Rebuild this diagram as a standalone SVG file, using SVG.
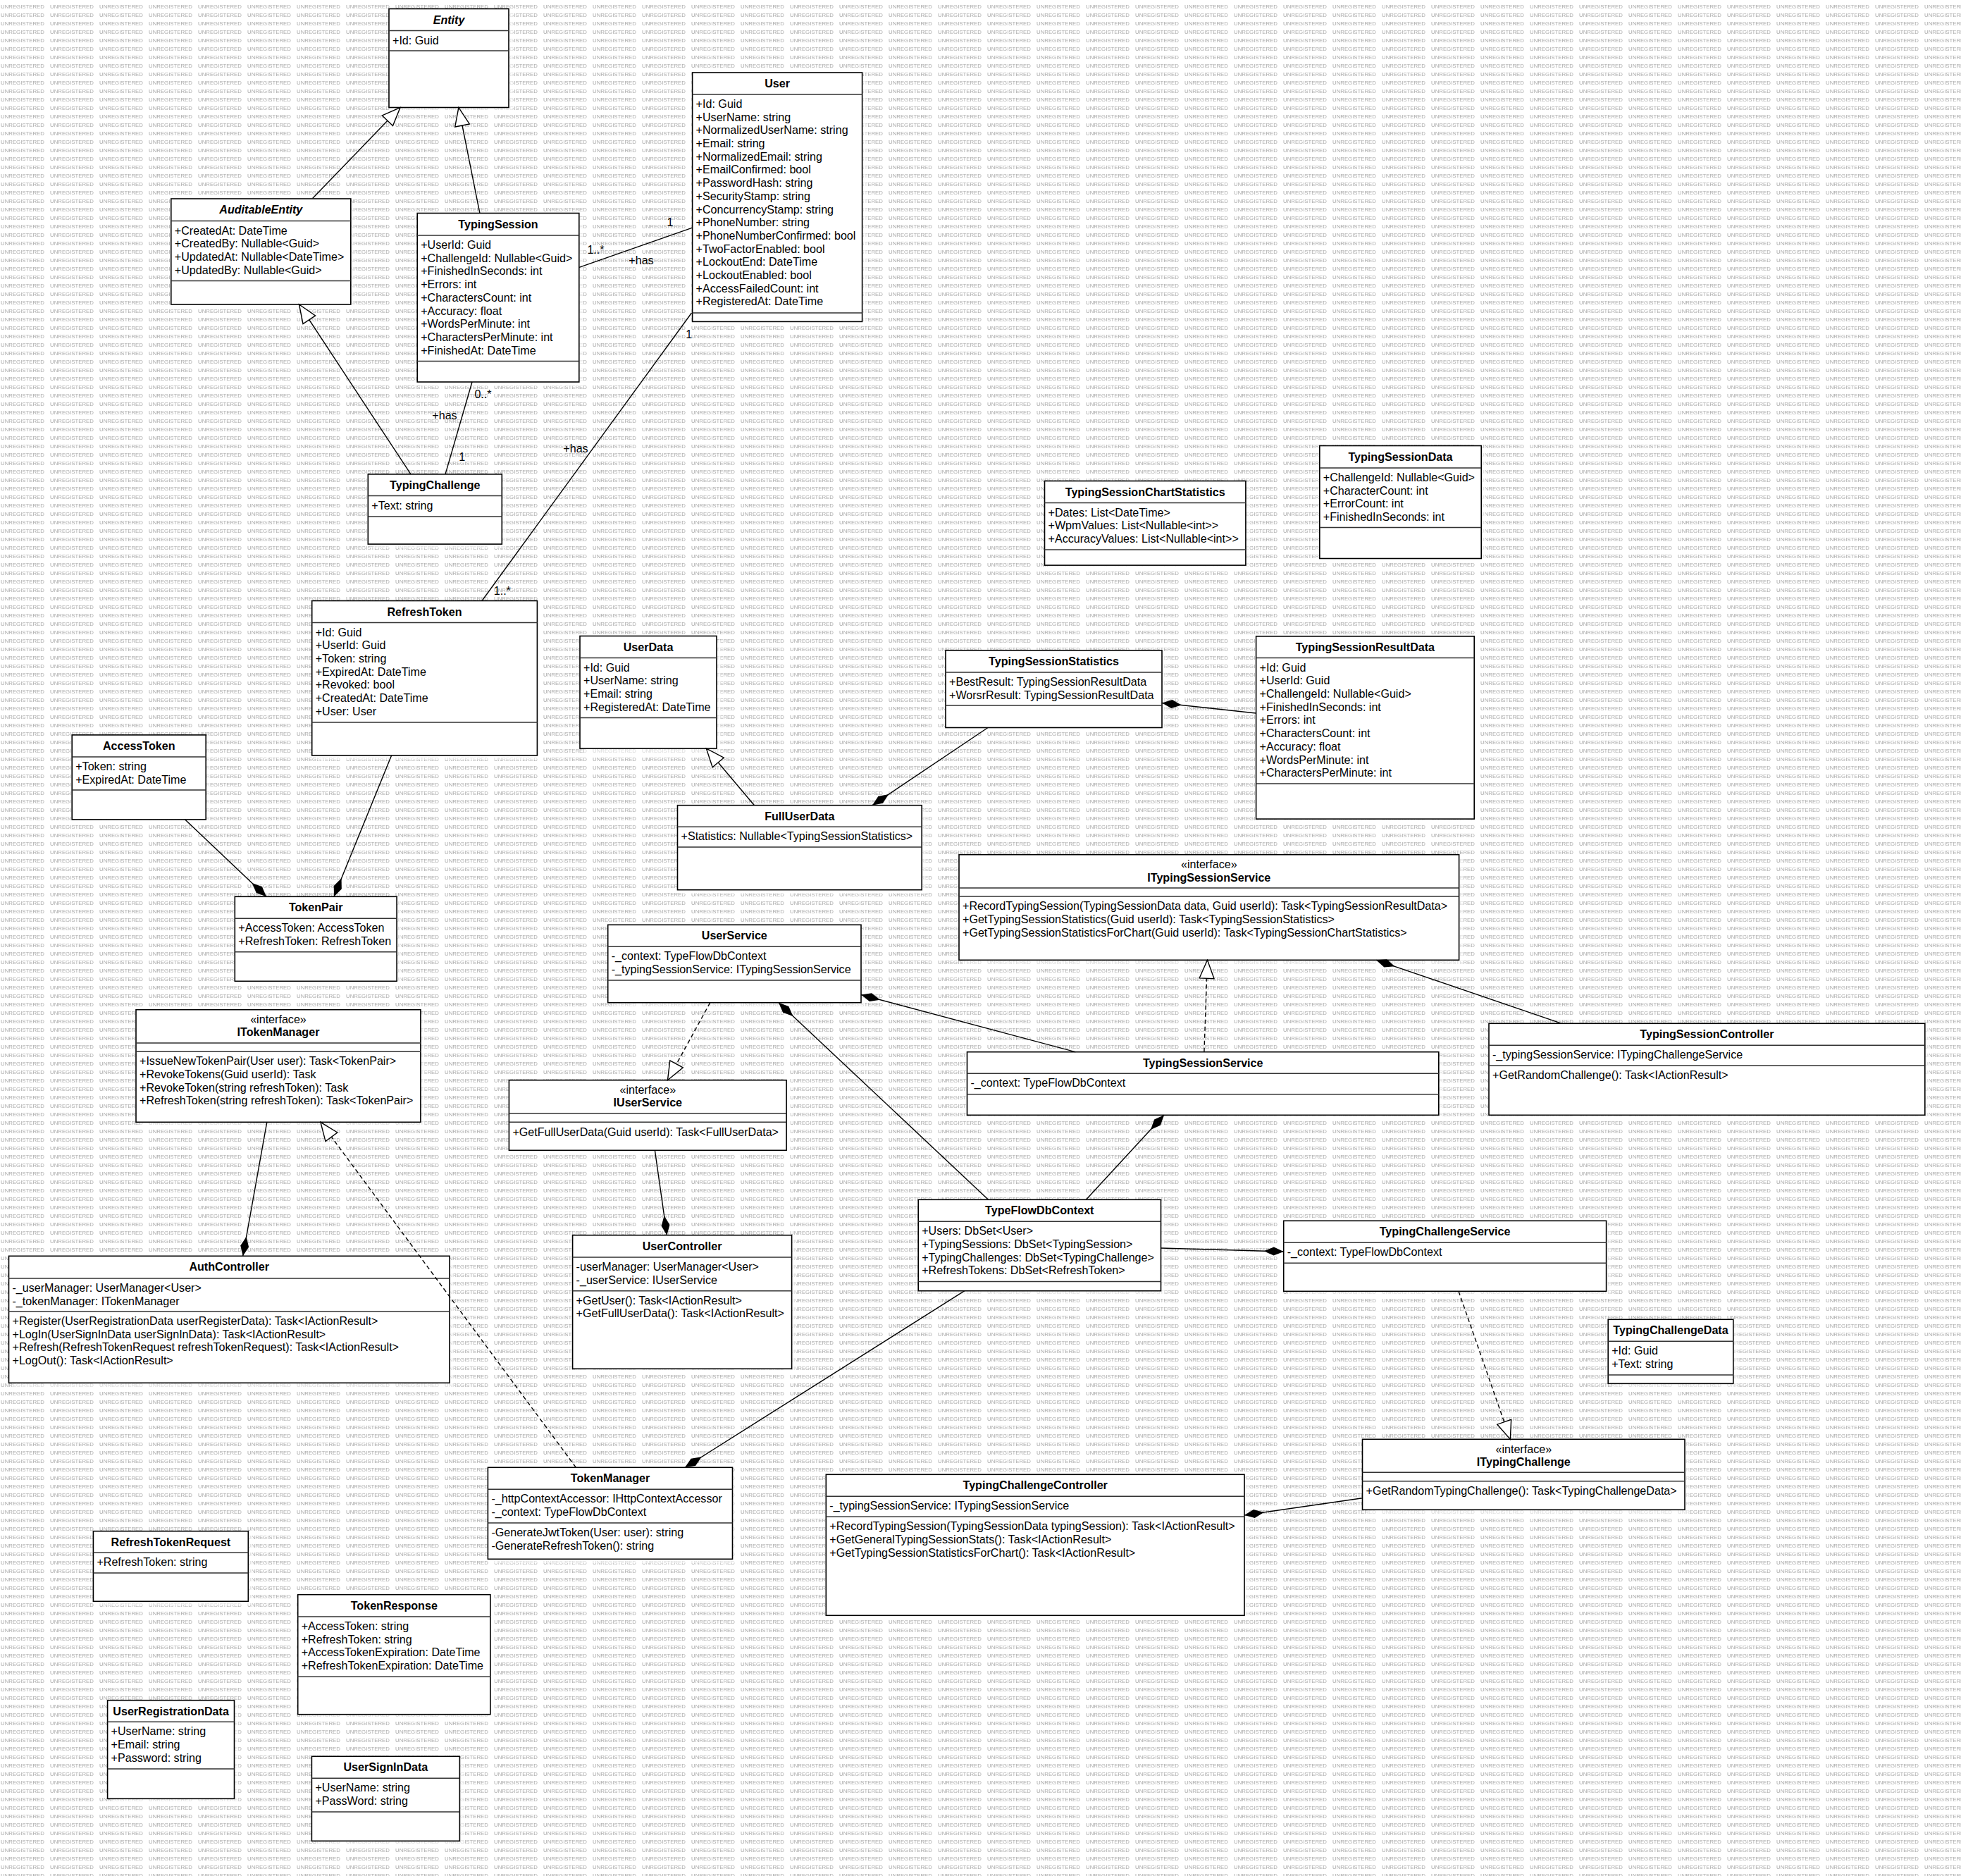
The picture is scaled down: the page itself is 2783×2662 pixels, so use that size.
<svg xmlns="http://www.w3.org/2000/svg" width="2783" height="2662" viewBox="0 0 2783 2662">
<defs>
<style>
.bx{fill:#fff;stroke:#000;stroke-width:1.6}
.sh{fill:#fff;fill-opacity:.55}
.sp{fill:none;stroke:#333;stroke-width:1.5}
text{font-family:"Liberation Sans",Arial,sans-serif;font-size:16.1px;fill:#000}
.ti{font-weight:bold;text-anchor:middle}
.it{font-style:italic}
.st{text-anchor:middle}
.lb{text-anchor:middle}
.wm{font-family:"Liberation Sans",Arial,sans-serif;font-size:7.8px;fill:#a9a9a9}
.cn{fill:none;stroke:#000;stroke-width:1.4}
.dash{stroke-dasharray:6 4}
.gen{marker-end:url(#tri)}
.cmp{marker-end:url(#dia)}
</style>
<pattern id="wmark" patternUnits="userSpaceOnUse" x="1" y="0" width="70" height="12">
<text class="wm" x="0" y="11.9">UNREGISTERED</text>
</pattern>
<marker id="tri" markerUnits="userSpaceOnUse" viewBox="-2 -12 30 24" markerWidth="30" markerHeight="24" refX="26" refY="0" orient="auto">
<path d="M0,-10.5 L26,0 L0,10.5 Z" fill="#fff" stroke="#000" stroke-width="1.4"/>
</marker>
<marker id="dia" markerUnits="userSpaceOnUse" viewBox="-2 -8 32 16" markerWidth="32" markerHeight="16" refX="28" refY="0" orient="auto">
<path d="M0,0 L14,-6 L28,0 L14,6 Z" fill="#000"/>
</marker>
</defs>

<!-- canvas with tiled watermark -->
<rect width="2783" height="2662" fill="#fff"/>
<rect width="2783" height="2662" fill="url(#wmark)"/>

<g id="nodes">
<g id="Entity">
<rect class="sh" x="558" y="18.5" width="170" height="140"/>
<rect class="bx" x="552" y="12.5" width="170" height="140"/>
<path class="sp" d="M552 43.6H722M552 72H722"/>
<text class="ti it" x="637" y="33.5">Entity</text>
<text x="557" y="62.6">+Id: Guid</text>
</g>

<g id="AuditableEntity">
<rect class="sh" x="248.8" y="288" width="255" height="150"/>
<rect class="bx" x="242.8" y="282" width="255" height="150"/>
<path class="sp" d="M242.8 313.6H497.8M242.8 398.6H497.8"/>
<text class="ti it" x="370.3" y="303">AuditableEntity</text>
<text x="247.8" y="332.6">+CreatedAt: DateTime</text>
<text x="247.8" y="351.3">+CreatedBy: Nullable&lt;Guid&gt;</text>
<text x="247.8" y="370">+UpdatedAt: Nullable&lt;DateTime&gt;</text>
<text x="247.8" y="388.7">+UpdatedBy: Nullable&lt;Guid&gt;</text>
</g>

<g id="TypingSession">
<rect class="sh" x="598.2" y="308.5" width="229.6" height="239.5"/>
<rect class="bx" x="592.2" y="302.5" width="229.6" height="239.5"/>
<path class="sp" d="M592.2 334H821.8M592.2 512.5H821.8"/>
<text class="ti" x="707" y="323.5">TypingSession</text>
<text x="597.2" y="353">+UserId: Guid</text>
<text x="597.2" y="371.7">+ChallengeId: Nullable&lt;Guid&gt;</text>
<text x="597.2" y="390.4">+FinishedInSeconds: int</text>
<text x="597.2" y="409.1">+Errors: int</text>
<text x="597.2" y="427.8">+CharactersCount: int</text>
<text x="597.2" y="446.5">+Accuracy: float</text>
<text x="597.2" y="465.2">+WordsPerMinute: int</text>
<text x="597.2" y="483.9">+CharactersPerMinute: int</text>
<text x="597.2" y="502.6">+FinishedAt: DateTime</text>
</g>

<g id="User">
<rect class="sh" x="988.6" y="109" width="241" height="353.4"/>
<rect class="bx" x="982.6" y="103" width="241" height="353.4"/>
<path class="sp" d="M982.6 133.9H1223.6M982.6 443.9H1223.6"/>
<text class="ti" x="1103.1" y="124">User</text>
<text x="987.6" y="152.9">+Id: Guid</text>
<text x="987.6" y="171.6">+UserName: string</text>
<text x="987.6" y="190.3">+NormalizedUserName: string</text>
<text x="987.6" y="209">+Email: string</text>
<text x="987.6" y="227.7">+NormalizedEmail: string</text>
<text x="987.6" y="246.4">+EmailConfirmed: bool</text>
<text x="987.6" y="265.1">+PasswordHash: string</text>
<text x="987.6" y="283.8">+SecurityStamp: string</text>
<text x="987.6" y="302.5">+ConcurrencyStamp: string</text>
<text x="987.6" y="321.2">+PhoneNumber: string</text>
<text x="987.6" y="339.9">+PhoneNumberConfirmed: bool</text>
<text x="987.6" y="358.6">+TwoFactorEnabled: bool</text>
<text x="987.6" y="377.3">+LockoutEnd: DateTime</text>
<text x="987.6" y="396">+LockoutEnabled: bool</text>
<text x="987.6" y="414.7">+AccessFailedCount: int</text>
<text x="987.6" y="433.4">+RegisteredAt: DateTime</text>
</g>

<g id="TypingChallenge">
<rect class="sh" x="528.3" y="678.9" width="190" height="99.2"/>
<rect class="bx" x="522.3" y="672.9" width="190" height="99.2"/>
<path class="sp" d="M522.3 703.6H712.3M522.3 732.9H712.3"/>
<text class="ti" x="617.3" y="693.9">TypingChallenge</text>
<text x="527.3" y="722.6">+Text: string</text>
</g>

<g id="RefreshToken">
<rect class="sh" x="448.7" y="858.5" width="319.7" height="219.5"/>
<rect class="bx" x="442.7" y="852.5" width="319.7" height="219.5"/>
<path class="sp" d="M442.7 883.6H762.4M442.7 1025H762.4"/>
<text class="ti" x="602.5" y="873.5">RefreshToken</text>
<text x="447.7" y="902.6">+Id: Guid</text>
<text x="447.7" y="921.3">+UserId: Guid</text>
<text x="447.7" y="940">+Token: string</text>
<text x="447.7" y="958.7">+ExpiredAt: DateTime</text>
<text x="447.7" y="977.4">+Revoked: bool</text>
<text x="447.7" y="996.1">+CreatedAt: DateTime</text>
<text x="447.7" y="1014.8">+User: User</text>
</g>

<g id="UserData">
<rect class="sh" x="829" y="908.5" width="194" height="159.6"/>
<rect class="bx" x="823" y="902.5" width="194" height="159.6"/>
<path class="sp" d="M823 933.6H1017M823 1018.6H1017"/>
<text class="ti" x="920" y="923.5">UserData</text>
<text x="828" y="952.6">+Id: Guid</text>
<text x="828" y="971.3">+UserName: string</text>
<text x="828" y="990">+Email: string</text>
<text x="828" y="1008.7">+RegisteredAt: DateTime</text>
</g>

<g id="AccessToken">
<rect class="sh" x="108.2" y="1048.9" width="190" height="120"/>
<rect class="bx" x="102.2" y="1042.9" width="190" height="120"/>
<path class="sp" d="M102.2 1073.9H292.2M102.2 1121H292.2"/>
<text class="ti" x="197.2" y="1063.9">AccessToken</text>
<text x="107.2" y="1092.9">+Token: string</text>
<text x="107.2" y="1111.6">+ExpiredAt: DateTime</text>
</g>

<g id="TypingSessionChartStatistics">
<rect class="sh" x="1488.5" y="688.5" width="285.4" height="119.6"/>
<rect class="bx" x="1482.5" y="682.5" width="285.4" height="119.6"/>
<path class="sp" d="M1482.5 713.6H1767.9M1482.5 780H1767.9"/>
<text class="ti" x="1625.2" y="703.5">TypingSessionChartStatistics</text>
<text x="1487.5" y="732.6">+Dates: List&lt;DateTime&gt;</text>
<text x="1487.5" y="751.3">+WpmValues: List&lt;Nullable&lt;int&gt;&gt;</text>
<text x="1487.5" y="770">+AccuracyValues: List&lt;Nullable&lt;int&gt;&gt;</text>
</g>

<g id="TypingSessionData">
<rect class="sh" x="1878.8" y="638.5" width="229.4" height="160"/>
<rect class="bx" x="1872.8" y="632.5" width="229.4" height="160"/>
<path class="sp" d="M1872.8 663.9H2102.2M1872.8 748.6H2102.2"/>
<text class="ti" x="1987.5" y="653.5">TypingSessionData</text>
<text x="1877.8" y="682.9">+ChallengeId: Nullable&lt;Guid&gt;</text>
<text x="1877.8" y="701.6">+CharacterCount: int</text>
<text x="1877.8" y="720.3">+ErrorCount: int</text>
<text x="1877.8" y="739">+FinishedInSeconds: int</text>
</g>

<g id="TypingSessionResultData">
<rect class="sh" x="1788.6" y="908.9" width="309.6" height="259.2"/>
<rect class="bx" x="1782.6" y="902.9" width="309.6" height="259.2"/>
<path class="sp" d="M1782.6 933.6H2092.2M1782.6 1112H2092.2"/>
<text class="ti" x="1937.4" y="923.9">TypingSessionResultData</text>
<text x="1787.6" y="952.6">+Id: Guid</text>
<text x="1787.6" y="971.3">+UserId: Guid</text>
<text x="1787.6" y="990">+ChallengeId: Nullable&lt;Guid&gt;</text>
<text x="1787.6" y="1008.7">+FinishedInSeconds: int</text>
<text x="1787.6" y="1027.4">+Errors: int</text>
<text x="1787.6" y="1046.1">+CharactersCount: int</text>
<text x="1787.6" y="1064.8">+Accuracy: float</text>
<text x="1787.6" y="1083.5">+WordsPerMinute: int</text>
<text x="1787.6" y="1102.2">+CharactersPerMinute: int</text>
</g>

<g id="TypingSessionStatistics">
<rect class="sh" x="1348" y="928.9" width="307" height="109.6"/>
<rect class="bx" x="1342" y="922.9" width="307" height="109.6"/>
<path class="sp" d="M1342 953.9H1649M1342 1001H1649"/>
<text class="ti" x="1495.5" y="943.9">TypingSessionStatistics</text>
<text x="1347" y="972.9">+BestResult: TypingSessionResultData</text>
<text x="1347" y="991.6">+WorsrResult: TypingSessionResultData</text>
</g>

<g id="FullUserData">
<rect class="sh" x="967.5" y="1148.7" width="346.7" height="120"/>
<rect class="bx" x="961.5" y="1142.7" width="346.7" height="120"/>
<path class="sp" d="M961.5 1173.3H1308.2M961.5 1202H1308.2"/>
<text class="ti" x="1134.8" y="1163.7">FullUserData</text>
<text x="966.5" y="1192.3">+Statistics: Nullable&lt;TypingSessionStatistics&gt;</text>
</g>

<g id="ITypingSessionService">
<rect class="sh" x="1367" y="1218.7" width="709.6" height="149.6"/>
<rect class="bx" x="1361" y="1212.7" width="709.6" height="149.6"/>
<path class="sp" d="M1361 1260H2070.6M1361 1272H2070.6"/>
<text class="st" x="1715.8" y="1232">«interface»</text>
<text class="ti" x="1715.8" y="1250.5">ITypingSessionService</text>
<text x="1366" y="1291.3">+RecordTypingSession(TypingSessionData data, Guid userId): Task&lt;TypingSessionResultData&gt;</text>
<text x="1366" y="1310">+GetTypingSessionStatistics(Guid userId): Task&lt;TypingSessionStatistics&gt;</text>
<text x="1366" y="1328.7">+GetTypingSessionStatisticsForChart(Guid userId): Task&lt;TypingSessionChartStatistics&gt;</text>
</g>

<g id="UserService">
<rect class="sh" x="868.7" y="1318.3" width="359.3" height="110.4"/>
<rect class="bx" x="862.7" y="1312.3" width="359.3" height="110.4"/>
<path class="sp" d="M862.7 1343.3H1222M862.7 1391H1222"/>
<text class="ti" x="1042.3" y="1333.3">UserService</text>
<text x="867.7" y="1362.3">-_context: TypeFlowDbContext</text>
<text x="867.7" y="1381">-_typingSessionService: ITypingSessionService</text>
</g>

<g id="TypingSessionService">
<rect class="sh" x="1378.5" y="1498.7" width="669.3" height="89.6"/>
<rect class="bx" x="1372.5" y="1492.7" width="669.3" height="89.6"/>
<path class="sp" d="M1372.5 1523.3H2041.8M1372.5 1552.7H2041.8"/>
<text class="ti" x="1707.2" y="1513.7">TypingSessionService</text>
<text x="1377.5" y="1542.3">-_context: TypeFlowDbContext</text>
</g>

<g id="TypingSessionController">
<rect class="sh" x="2119" y="1458.3" width="618.8" height="130"/>
<rect class="bx" x="2113" y="1452.3" width="618.8" height="130"/>
<path class="sp" d="M2113 1483.3H2731.8M2113 1512H2731.8"/>
<text class="ti" x="2422.4" y="1473.3">TypingSessionController</text>
<text x="2118" y="1502.3">-_typingSessionService: ITypingChallengeService</text>
<text x="2118" y="1531">+GetRandomChallenge(): Task&lt;IActionResult&gt;</text>
</g>

<g id="TokenPair">
<rect class="sh" x="339.3" y="1278.3" width="229.8" height="120"/>
<rect class="bx" x="333.3" y="1272.3" width="229.8" height="120"/>
<path class="sp" d="M333.3 1303.3H563.1M333.3 1350.7H563.1"/>
<text class="ti" x="448.2" y="1293.3">TokenPair</text>
<text x="338.3" y="1322.3">+AccessToken: AccessToken</text>
<text x="338.3" y="1341">+RefreshToken: RefreshToken</text>
</g>

<g id="ITokenManager">
<rect class="sh" x="199" y="1438.7" width="403.9" height="159.6"/>
<rect class="bx" x="193" y="1432.7" width="403.9" height="159.6"/>
<path class="sp" d="M193 1480H596.9M193 1492.3H596.9"/>
<text class="st" x="395" y="1451.5">«interface»</text>
<text class="ti" x="395" y="1469.5">ITokenManager</text>
<text x="198" y="1511.3">+IssueNewTokenPair(User user): Task&lt;TokenPair&gt;</text>
<text x="198" y="1530">+RevokeTokens(Guid userId): Task</text>
<text x="198" y="1548.7">+RevokeToken(string refreshToken): Task</text>
<text x="198" y="1567.4">+RefreshToken(string refreshToken): Task&lt;TokenPair&gt;</text>
</g>

<g id="IUserService">
<rect class="sh" x="728.4" y="1538.7" width="393.7" height="99.6"/>
<rect class="bx" x="722.4" y="1532.7" width="393.7" height="99.6"/>
<path class="sp" d="M722.4 1580H1116.1M722.4 1592.3H1116.1"/>
<text class="st" x="919.3" y="1551.5">«interface»</text>
<text class="ti" x="919.3" y="1569.5">IUserService</text>
<text x="727.4" y="1611.5">+GetFullUserData(Guid userId): Task&lt;FullUserData&gt;</text>
</g>

<g id="AuthController">
<rect class="sh" x="18.5" y="1788.3" width="625.5" height="180"/>
<rect class="bx" x="12.5" y="1782.3" width="625.5" height="180"/>
<path class="sp" d="M12.5 1814H638M12.5 1861H638"/>
<text class="ti" x="325.2" y="1803.3">AuthController</text>
<text x="17.5" y="1833">-_userManager: UserManager&lt;User&gt;</text>
<text x="17.5" y="1851.7">-_tokenManager: ITokenManager</text>
<text x="17.5" y="1880">+Register(UserRegistrationData userRegisterData): Task&lt;IActionResult&gt;</text>
<text x="17.5" y="1898.7">+LogIn(UserSignInData userSignInData): Task&lt;IActionResult&gt;</text>
<text x="17.5" y="1917.4">+Refresh(RefreshTokenRequest refreshTokenRequest): Task&lt;IActionResult&gt;</text>
<text x="17.5" y="1936.1">+LogOut(): Task&lt;IActionResult&gt;</text>
</g>

<g id="UserController">
<rect class="sh" x="818.6" y="1758.7" width="311" height="189.6"/>
<rect class="bx" x="812.6" y="1752.7" width="311" height="189.6"/>
<path class="sp" d="M812.6 1784H1123.6M812.6 1831.7H1123.6"/>
<text class="ti" x="968.1" y="1773.7">UserController</text>
<text x="817.6" y="1803">-userManager: UserManager&lt;User&gt;</text>
<text x="817.6" y="1821.7">-_userService: IUserService</text>
<text x="817.6" y="1850.7">+GetUser(): Task&lt;IActionResult&gt;</text>
<text x="817.6" y="1869.4">+GetFullUserData(): Task&lt;IActionResult&gt;</text>
</g>

<g id="TypeFlowDbContext">
<rect class="sh" x="1309.2" y="1708.3" width="344.3" height="129.4"/>
<rect class="bx" x="1303.2" y="1702.3" width="344.3" height="129.4"/>
<path class="sp" d="M1303.2 1733.3H1647.5M1303.2 1818.6H1647.5"/>
<text class="ti" x="1475.3" y="1723.3">TypeFlowDbContext</text>
<text x="1308.2" y="1752.3">+Users: DbSet&lt;User&gt;</text>
<text x="1308.2" y="1771">+TypingSessions: DbSet&lt;TypingSession&gt;</text>
<text x="1308.2" y="1789.7">+TypingChallenges: DbSet&lt;TypingChallenge&gt;</text>
<text x="1308.2" y="1808.4">+RefreshTokens: DbSet&lt;RefreshToken&gt;</text>
</g>

<g id="TypingChallengeService">
<rect class="sh" x="1827.7" y="1738.3" width="457.9" height="100"/>
<rect class="bx" x="1821.7" y="1732.3" width="457.9" height="100"/>
<path class="sp" d="M1821.7 1763.3H2279.6M1821.7 1792.3H2279.6"/>
<text class="ti" x="2050.6" y="1753.3">TypingChallengeService</text>
<text x="1826.7" y="1782.3">-_context: TypeFlowDbContext</text>
</g>

<g id="TypingChallengeData">
<rect class="sh" x="2288.2" y="1878.3" width="177.6" height="91"/>
<rect class="bx" x="2282.2" y="1872.3" width="177.6" height="91"/>
<path class="sp" d="M2282.2 1903.3H2459.8M2282.2 1951H2459.8"/>
<text class="ti" x="2371" y="1893.3">TypingChallengeData</text>
<text x="2287.2" y="1922.3">+Id: Guid</text>
<text x="2287.2" y="1941">+Text: string</text>
</g>

<g id="TokenManager">
<rect class="sh" x="698.4" y="2088.3" width="347.1" height="130"/>
<rect class="bx" x="692.4" y="2082.3" width="347.1" height="130"/>
<path class="sp" d="M692.4 2113.3H1039.5M692.4 2161H1039.5"/>
<text class="ti" x="866" y="2103.3">TokenManager</text>
<text x="697.4" y="2132.3">-_httpContextAccessor: IHttpContextAccessor</text>
<text x="697.4" y="2151">-_context: TypeFlowDbContext</text>
<text x="697.4" y="2180">-GenerateJwtToken(User: user): string</text>
<text x="697.4" y="2198.7">-GenerateRefreshToken(): string</text>
</g>

<g id="TypingChallengeController">
<rect class="sh" x="1178.3" y="2098.3" width="593.7" height="200"/>
<rect class="bx" x="1172.3" y="2092.3" width="593.7" height="200"/>
<path class="sp" d="M1172.3 2123.3H1766M1172.3 2152.3H1766"/>
<text class="ti" x="1469.2" y="2113.3">TypingChallengeController</text>
<text x="1177.3" y="2142.3">-_typingSessionService: ITypingSessionService</text>
<text x="1177.3" y="2171.3">+RecordTypingSession(TypingSessionData typingSession): Task&lt;IActionResult&gt;</text>
<text x="1177.3" y="2190">+GetGeneralTypingSessionStats(): Task&lt;IActionResult&gt;</text>
<text x="1177.3" y="2208.7">+GetTypingSessionStatisticsForChart(): Task&lt;IActionResult&gt;</text>
</g>

<g id="ITypingChallenge">
<rect class="sh" x="1939.5" y="2048.3" width="457.5" height="100"/>
<rect class="bx" x="1933.5" y="2042.3" width="457.5" height="100"/>
<path class="sp" d="M1933.5 2089.3H2391M1933.5 2101.7H2391"/>
<text class="st" x="2162.3" y="2061.5">«interface»</text>
<text class="ti" x="2162.3" y="2079.5">ITypingChallenge</text>
<text x="1938.5" y="2121">+GetRandomTypingChallenge(): Task&lt;TypingChallengeData&gt;</text>
</g>

<g id="RefreshTokenRequest">
<rect class="sh" x="138.4" y="2178.7" width="219.9" height="99.6"/>
<rect class="bx" x="132.4" y="2172.7" width="219.9" height="99.6"/>
<path class="sp" d="M132.4 2203.3H352.3M132.4 2232H352.3"/>
<text class="ti" x="242.4" y="2193.7">RefreshTokenRequest</text>
<text x="137.4" y="2222.3">+RefreshToken: string</text>
</g>

<g id="TokenResponse">
<rect class="sh" x="428.7" y="2268.7" width="273.2" height="170"/>
<rect class="bx" x="422.7" y="2262.7" width="273.2" height="170"/>
<path class="sp" d="M422.7 2294H695.9M422.7 2379.3H695.9"/>
<text class="ti" x="559.3" y="2283.7">TokenResponse</text>
<text x="427.7" y="2313">+AccessToken: string</text>
<text x="427.7" y="2331.7">+RefreshToken: string</text>
<text x="427.7" y="2350.4">+AccessTokenExpiration: DateTime</text>
<text x="427.7" y="2369.1">+RefreshTokenExpiration: DateTime</text>
</g>

<g id="UserRegistrationData">
<rect class="sh" x="158.6" y="2418.7" width="179.9" height="139.6"/>
<rect class="bx" x="152.6" y="2412.7" width="179.9" height="139.6"/>
<path class="sp" d="M152.6 2443.3H332.5M152.6 2510H332.5"/>
<text class="ti" x="242.6" y="2433.7">UserRegistrationData</text>
<text x="157.6" y="2462.3">+UserName: string</text>
<text x="157.6" y="2481">+Email: string</text>
<text x="157.6" y="2499.7">+Password: string</text>
</g>

<g id="UserSignInData">
<rect class="sh" x="448.4" y="2498.3" width="210" height="120"/>
<rect class="bx" x="442.4" y="2492.3" width="210" height="120"/>
<path class="sp" d="M442.4 2523.3H652.4M442.4 2571H652.4"/>
<text class="ti" x="547.4" y="2513.3">UserSignInData</text>
<text x="447.4" y="2542.3">+UserName: string</text>
<text x="447.4" y="2561">+PassWord: string</text>
</g>
</g>

<g id="connectors">
<!-- generalizations -->
<path class="cn gen" d="M443.6,281.5 L568,152.5"/>
<path class="cn gen" d="M680.9,302.5 L650.9,152.5"/>
<path class="cn gen" d="M583,672.9 L424.5,432"/>
<path class="cn gen" d="M1070.5,1142.7 L1002.4,1062.1"/>
<!-- realizations -->
<path class="cn dash gen" d="M1007.8,1422.7 L947.5,1532.7"/>
<path class="cn dash gen" d="M1708.9,1492.7 L1713.5,1362.3"/>
<path class="cn dash gen" d="M817.4,2082.3 L454.9,1592.3"/>
<path class="cn dash gen" d="M2070,1832.3 L2143.3,2042.3"/>
<!-- associations -->
<path class="cn" d="M822,379.3 L982.6,323.2"/>
<path class="cn" d="M981.5,444 L684,852.5"/>
<path class="cn" d="M670,542 L632,672.9"/>
<!-- compositions -->
<path class="cn cmp" d="M1782.6,1012 L1649,997.5"/>
<path class="cn cmp" d="M1402,1032.5 L1238,1142.7"/>
<path class="cn cmp" d="M262.7,1162.9 L378,1272.3"/>
<path class="cn cmp" d="M555.6,1072 L474,1272.3"/>
<path class="cn cmp" d="M1402.5,1702.3 L1105,1422.7"/>
<path class="cn cmp" d="M1526.3,1492.7 L1222,1411.5"/>
<path class="cn cmp" d="M2216.4,1452.3 L1953,1362.3"/>
<path class="cn cmp" d="M1541.4,1702.3 L1652,1582.3"/>
<path class="cn cmp" d="M378.8,1592.3 L344.7,1782.3"/>
<path class="cn cmp" d="M929.4,1632.3 L946.5,1752.7"/>
<path class="cn cmp" d="M1647.5,1771 L1821.7,1776"/>
<path class="cn cmp" d="M1368.9,1831.7 L972,2082.3"/>
<path class="cn cmp" d="M1933.5,2125.7 L1766,2150"/>
<!-- association end labels -->
<text class="lb" x="951" y="321.4">1</text>
<text class="lb" x="845.5" y="360">1..*</text>
<text class="lb" x="910" y="375">+has</text>
<text class="lb" x="977.7" y="480.4">1</text>
<text class="lb" x="817" y="641.8">+has</text>
<text class="lb" x="712.8" y="843.6">1..*</text>
<text class="lb" x="685.5" y="565">0..*</text>
<text class="lb" x="631" y="595">+has</text>
<text class="lb" x="655.7" y="653.6">1</text>
</g>
</svg>
